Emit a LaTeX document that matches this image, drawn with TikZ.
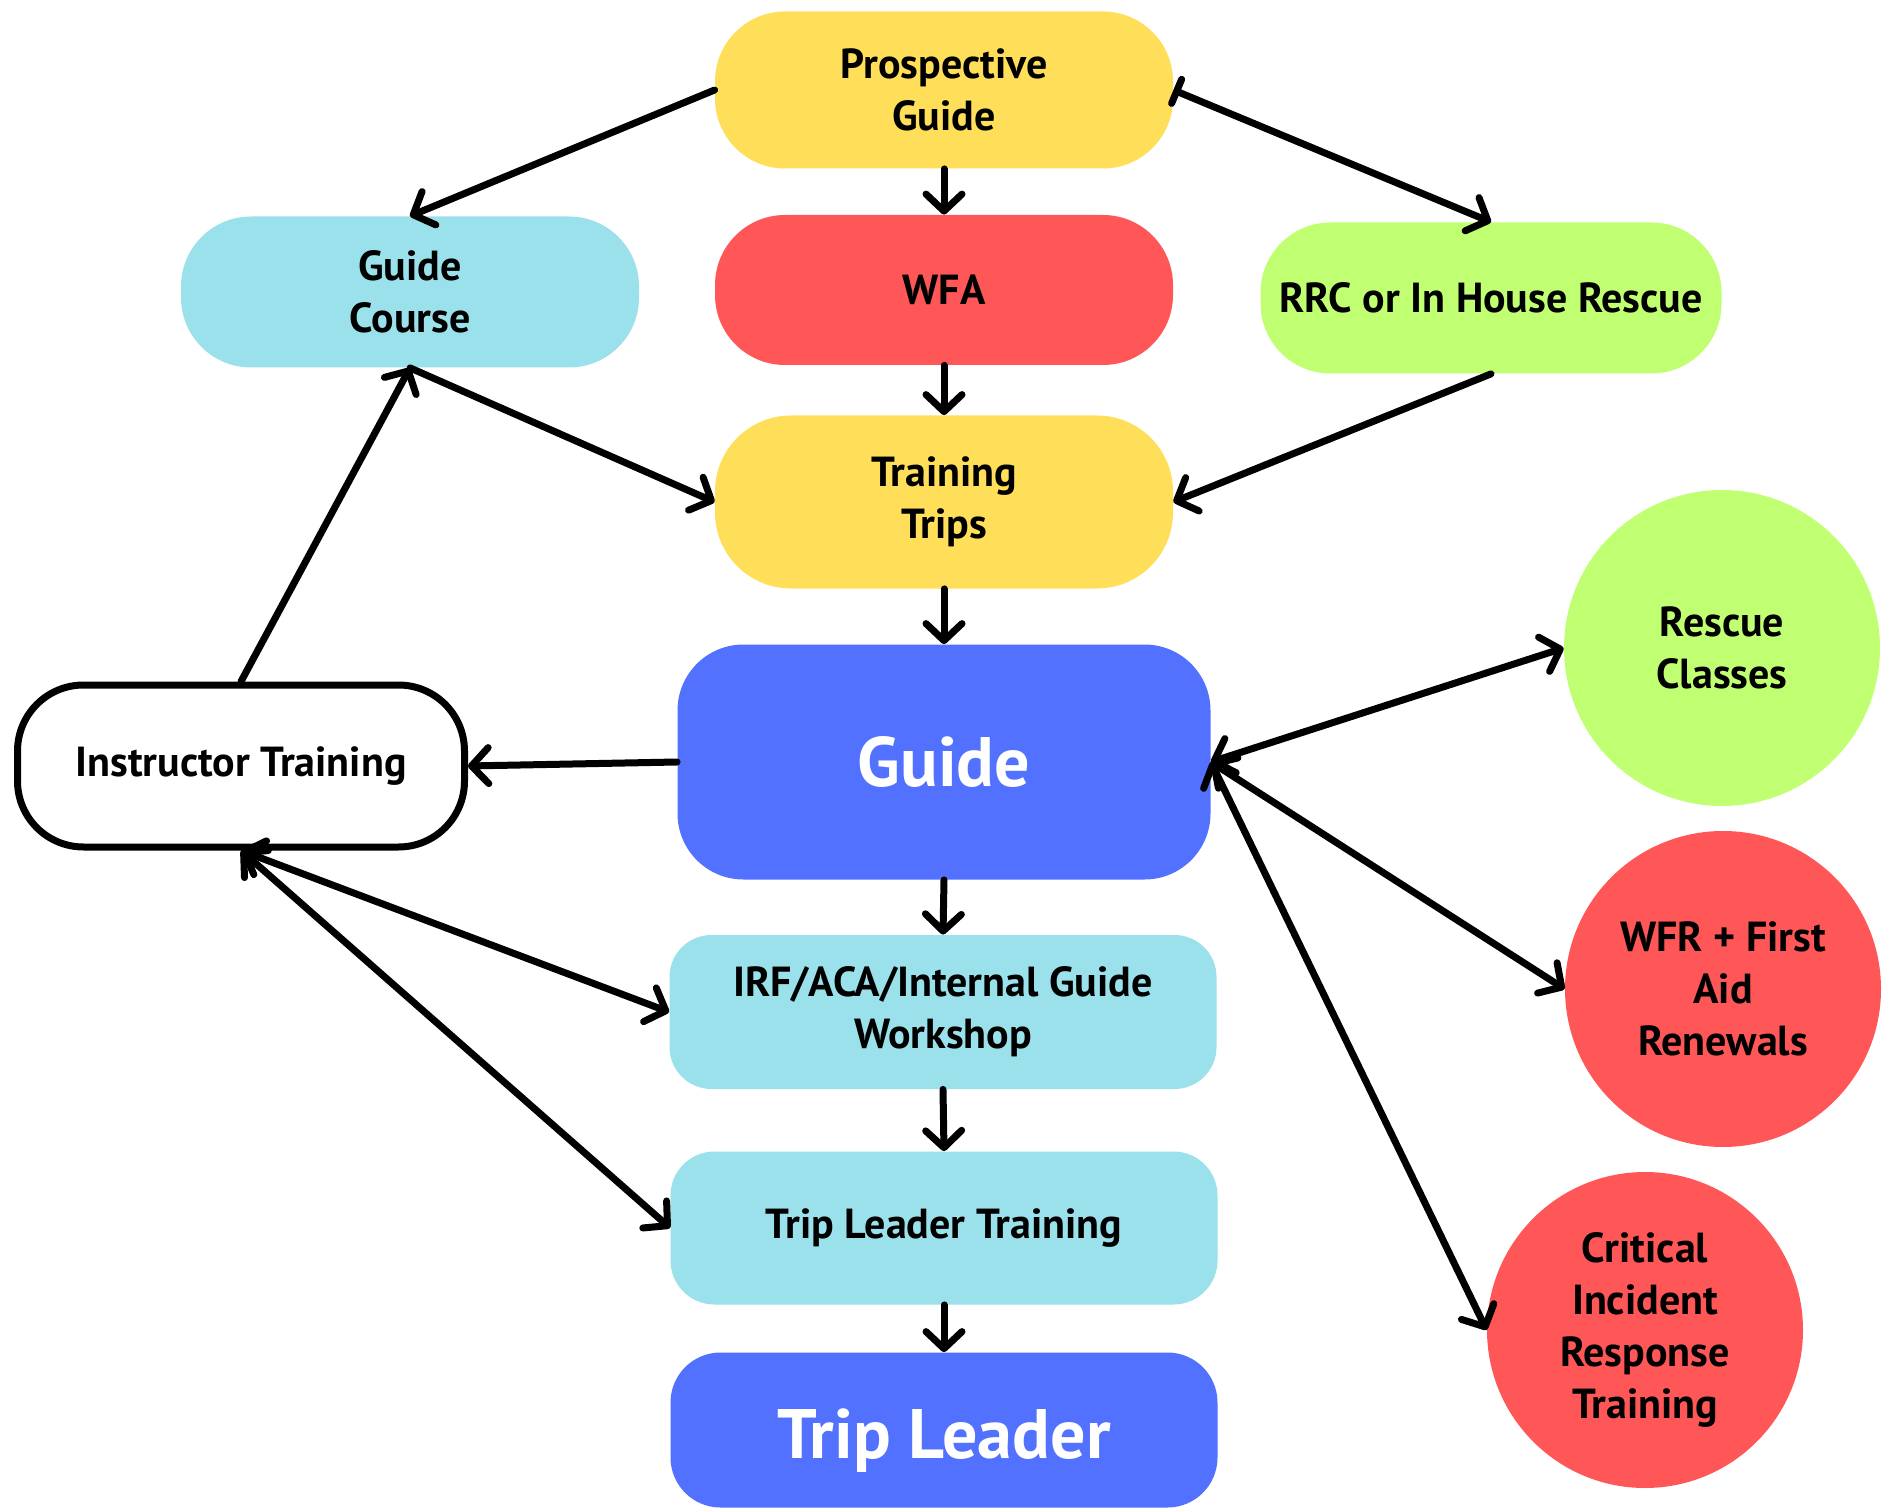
\documentclass[tikz,border=0pt]{standalone}
\usepackage{fontspec}
\setmainfont{PT Sans}
\usetikzlibrary{arrows.meta}
\definecolor{cyellow}{HTML}{FFDE59}
\definecolor{cred}{HTML}{FF5757}
\definecolor{cgreen}{HTML}{C1FF72}
\definecolor{clblue}{HTML}{9BE1EB}
\definecolor{cblue}{HTML}{5271FF}
\begin{document}
\begin{tikzpicture}[x=0.5pt,y=-0.5pt,
  box/.style={rectangle, rounded corners=#1, align=center, inner sep=0pt,
    font=\bfseries\fontsize{21}{26}\selectfont, text=black},
  bigbox/.style={rectangle, rounded corners=#1, align=center, inner sep=0pt,
    font=\bfseries\fontsize{35}{40}\selectfont, text=white, fill=cblue},
  disc/.style={circle, minimum size=158pt, inner sep=0pt, align=center,
    font=\bfseries\fontsize{21}{26}\selectfont, text=black},
  tip/.tip={Straight Barb[round,length=8.5pt,width=18pt]},
  arr/.style={line width=3.5pt, line cap=round, -tip},
  darr/.style={line width=3.5pt, line cap=round, tip-tip},
  barr/.style={line width=3.5pt, line cap=round, {Bar[round,width=13pt]}-tip}]
\useasboundingbox (0,0) rectangle (1891,1508);

\node[box=35pt, fill=cyellow, minimum width=229pt, minimum height=78.5pt] (pg) at (944,90) {Prospective\\Guide};
\node[box=35pt, fill=clblue, minimum width=229pt, minimum height=75.5pt] (gc) at (410,292) {Guide\\Course};
\node[box=35pt, fill=cred, minimum width=229pt, minimum height=75pt] (wfa) at (944,290) {WFA};
\node[box=35pt, fill=cgreen, minimum width=230.5pt, minimum height=75.5pt] (rrc) at (1491,298) {RRC or In House Rescue};
\node[box=38pt, fill=cyellow, minimum width=229pt, minimum height=86.5pt] (tt) at (944,502) {Training\\Trips};
\node[bigbox=33pt, minimum width=266.5pt, minimum height=117.5pt] (guide) at (944,762) {Guide};
\node[box=33pt, draw=black, line width=3.5pt, fill=white, minimum width=223.5pt, minimum height=81pt] (it) at (241,766) {Instructor Training};
\node[box=21pt, fill=clblue, minimum width=273.5pt, minimum height=77pt] (irf) at (943,1012) {IRF/ACA/Internal Guide\\Workshop};
\node[box=22pt, fill=clblue, minimum width=273.5pt, minimum height=76.5pt] (tlt) at (944,1228) {Trip Leader Training};
\node[bigbox=25pt, minimum width=273.5pt, minimum height=77.5pt, text depth=0pt] (tl) at (944,1430) {\raisebox{-4pt}{Trip Leader}};
\node[disc, fill=cgreen] (rc) at (1722,648) {Rescue\\Classes};
\node[disc, fill=cred] (wfr) at (1723,989) {WFR + First\\Aid\\Renewals};
\node[disc, fill=cred] (cir) at (1645,1330) {Critical\\Incident\\Response\\Training};

\draw[arr] (pg.west) -- (gc.north);
\draw[arr] (pg.south) -- (wfa.north);
\draw[barr] (pg.east) -- (rrc.north);
\draw[arr] (wfa.south) -- (tt.north);
\draw[arr] (gc.south) -- (tt.west);
\draw[arr] (rrc.south) -- (tt.east);
\draw[arr] (tt.south) -- (guide.north);
\draw[arr] (guide.west) -- (it.east);
\draw[arr] (it.north) -- (gc.south);
\draw[darr] (guide.east) -- (rc.west);
\draw[darr] (guide.east) -- (wfr.west);
\draw[darr] (guide.east) -- (cir.west);
\draw[arr] (guide.south) -- (irf.north);
\draw[arr] (irf.south) -- (tlt.north);
\draw[arr] (tlt.south) -- (tl.north);
\draw[darr] (it.south) -- (irf.west);
\draw[darr] (it.south) -- (tlt.west);
\end{tikzpicture}
\end{document}
